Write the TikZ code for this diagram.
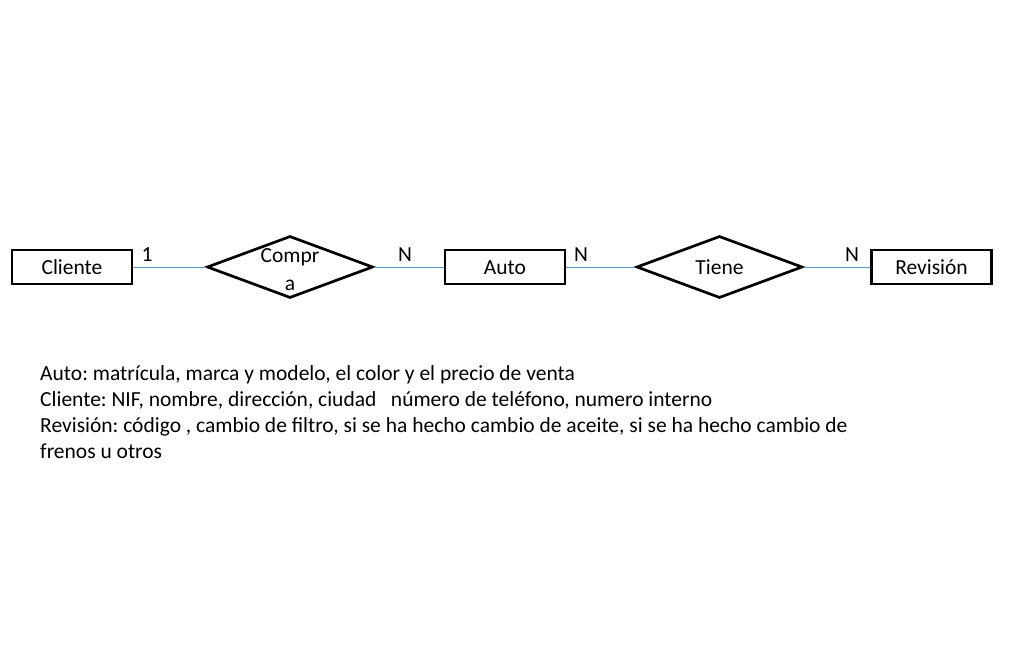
\documentclass[tikz,border=0pt]{standalone}
\usepackage{fontspec}
\setmainfont{Carlito}
\usetikzlibrary{shapes.geometric}
\definecolor{linkblue}{RGB}{91,155,213}
\tikzstyle{entity}=[draw=black,line width=2.1pt,minimum width=120pt,minimum height=34pt,inner sep=0pt,text height=16pt,text depth=1pt,font=\fontsize{21.5}{26}\selectfont]
\tikzstyle{relation}=[draw=black,line width=2.7pt,diamond,minimum width=166pt,minimum height=62pt,inner sep=0pt]
\tikzstyle{link}=[draw=linkblue,line width=1pt]
\tikzstyle{card}=[font=\fontsize{21.5}{26}\selectfont,inner sep=0pt]
\begin{document}
\frenchspacing
\begin{tikzpicture}[x=1pt,y=-1pt]
	\useasboundingbox (0,0) rectangle (1024,650);
	% entities
	\node[entity] (cliente) at (72,267) {Cliente};
	\node[entity] (auto) at (505,267) {Auto};
	\node[entity] (revision) at (931.5,267) {Revisión};
	% relations
	\node[relation] (compra) at (290,267) {};
	\node[font=\fontsize{21.5}{28}\selectfont,align=center,inner sep=0pt] (compratext) at (290,270) {Compr\\a};
	\node[relation] (tiene) at (719.5,267) {};
	\node[font=\fontsize{21.5}{26}\selectfont,inner sep=0pt,text height=16pt,text depth=1pt] (tienetext) at (719.5,267) {Tiene};
	% links
	\draw[link] (cliente) -- (compra);
	\draw[link] (compra) -- (auto);
	\draw[link] (auto) -- (tiene);
	\draw[link] (tiene) -- (revision);
	%cardinalities
	\node[card] (c1) at (147,255) {1};
	\node[card] (c2) at (405,255) {N};
	\node[card] (c3) at (581,255) {N};
	\node[card] (c4) at (852,255) {N};
	%attributes
	\node[anchor=north west,align=left,inner sep=0pt,font=\fontsize{21.5}{26}\selectfont] (attrs) at (40,365) {Auto: matrícula, marca y modelo, el color y el precio de venta\\
	Cliente: NIF, nombre, dirección, ciudad \ \ número de teléfono, numero interno\\
	Revisión: código , cambio de filtro, si se ha hecho cambio de aceite, si se ha hecho cambio de\\
	frenos u otros};
\end{tikzpicture}
\end{document}
